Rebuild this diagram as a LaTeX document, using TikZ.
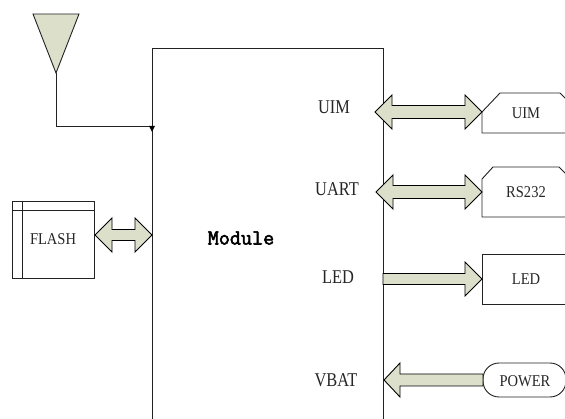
\documentclass[tikz,border=0pt]{standalone}
\usepackage{fontspec}
\usetikzlibrary{calc}
\newfontfamily\labfont[FakeStretch=0.84]{Liberation Serif}
\newfontfamily\boxfont[FakeStretch=0.88]{Liberation Serif}
\newfontfamily\modfont[FakeBold=2.5]{Latin Modern Mono}
\definecolor{arrfill}{HTML}{DCE0CB}
\definecolor{edge}{HTML}{222222}
\tikzset{
  blk/.style={draw=edge, line width=0.9pt},
  arr/.style={draw=black, line width=0.9pt, fill=arrfill, line join=miter},
  lab/.style={inner sep=0pt, font=\labfont\fontsize{19.5}{20}\selectfont, text=black!85},
  boxtxt/.style={inner sep=0pt, font=\boxfont\fontsize{16.5}{17}\selectfont, text=black!85},
}
% double block arrow between two points (same height): head length, head half-width, shaft half-width
\newcommand\dblarrow[5]{%
  \filldraw[arr] let \p1=(#1), \p2=(#2) in
   (\x1,\y1) -- (\x1+#3pt,\y1+#4pt) -- (\x1+#3pt,\y1+#5pt) -- (\x2-#3pt,\y1+#5pt)
   -- (\x2-#3pt,\y1+#4pt) -- (\x2,\y1) -- (\x2-#3pt,\y1-#4pt) -- (\x2-#3pt,\y1-#5pt)
   -- (\x1+#3pt,\y1-#5pt) -- (\x1+#3pt,\y1-#4pt) -- cycle;}
% single block arrow from #1 to #2 (tip at #2)
\newcommand\sglarrow[5]{%
  \filldraw[arr] let \p1=(#1), \p2=(#2), \n1={sign(\x2-\x1)} in
   (\x1,\y1+#5pt) -- (\x2-\n1*#3pt,\y1+#5pt) -- (\x2-\n1*#3pt,\y1+#4pt) -- (\x2,\y1)
   -- (\x2-\n1*#3pt,\y1-#4pt) -- (\x2-\n1*#3pt,\y1-#5pt) -- (\x1,\y1-#5pt) -- cycle;}
\begin{document}
\begin{tikzpicture}[x=1pt,y=-1pt]
\useasboundingbox (0,0) rectangle (565,419);
\clip (0,0) rectangle (565,419);
\fill[white] (0,0) rectangle (565,419);

% module box
\draw[blk] (152,440) -- (152,48) coordinate (modTL) -- (383,48) -- (383,440);
\node[font=\modfont\fontsize{21.5}{22}\selectfont, inner sep=0pt] (module) at (241,238) {Module};

% antenna
\filldraw[draw=edge, line width=0.9pt, fill=arrfill] (33,14) -- (79,14) -- (56,73) coordinate (ant) -- cycle;
\coordinate (antIn) at (152,126);
\draw[edge, line width=0.9pt] (ant) |- (antIn);
\fill[black] ($(antIn)+(-3,0)$) -- ($(antIn)+(3,0)$) -- ($(antIn)+(0,6)$) -- cycle;

% FLASH
\draw[blk] (12,201) rectangle (94,278);
\draw[blk] (22,201) -- (22,278);
\draw[blk] (12,210) -- (94,210);
\node[boxtxt] (flash) at (53,239) {FLASH};
\coordinate (flashR) at (95,235);
\coordinate (modFlash) at (152,235);
\dblarrow{flashR}{modFlash}{17}{17}{5.5}

% labels inside module
\node[lab] (lUIM) at (334,107) {UIM};
\node[lab] (lUART) at (337,189) {UART};
\node[lab] (lLED) at (338,277) {LED};
\node[lab] (lVBAT) at (336,380) {VBAT};

% UIM box
\draw[blk] (575,133) -- (482,133) -- (482,112) -- (500,93) -- (560,93) -- (570,103);
\node[boxtxt] (bUIM) at (526,113) {UIM};
\coordinate (uimA) at (375,112);
\coordinate (uimB) at (482,112);
\dblarrow{uimA}{uimB}{17}{17}{6.5}

% RS232 box
\draw[blk] (575,217) -- (482,217) -- (482,179) -- (493,167) -- (559,167) -- (567,175);
\node[boxtxt] (bRS) at (526,192) {RS232};
\coordinate (uartA) at (376,192);
\coordinate (uartB) at (482,192);
\dblarrow{uartA}{uartB}{17}{17}{6.5}

% LED box
\draw[blk] (575,254) -- (482,254) -- (482,304) -- (575,304);
\node[boxtxt] (bLED) at (526,279) {LED};
\coordinate (ledA) at (383,279);
\coordinate (ledB) at (482,279);
\sglarrow{ledA}{ledB}{17}{17}{5.5}

% POWER box
\draw[blk, rounded corners=16pt] (483,363) rectangle (566,397);
\node[boxtxt] (bPOW) at (525,381) {POWER};
\coordinate (powA) at (483,380);
\coordinate (powB) at (384,380);
\sglarrow{powA}{powB}{16}{17}{6}
\end{tikzpicture}
\end{document}
